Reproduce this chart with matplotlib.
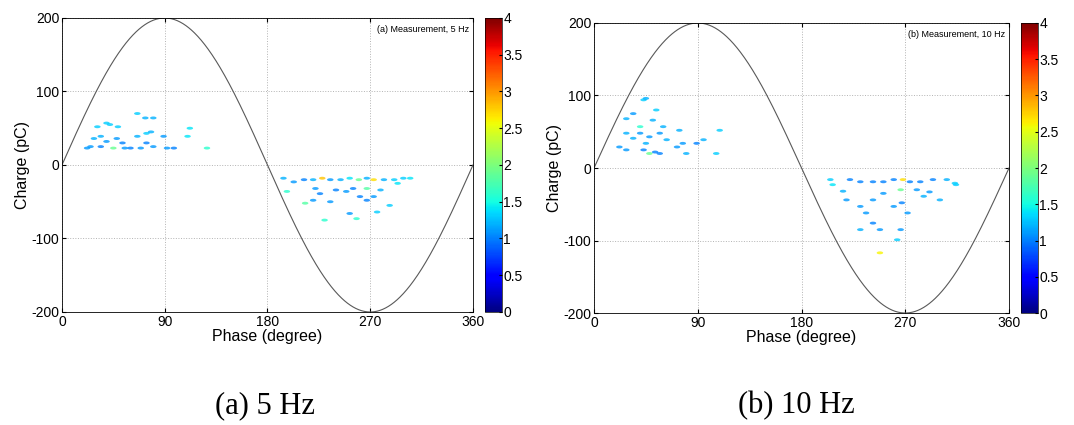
import numpy as np
import matplotlib
matplotlib.use("Agg")
from matplotlib import pyplot as plt

# (a) 5 Hz : phase (deg), charge (pC), intensity
phase_a = [22, 25, 28, 34, 34, 39, 39, 45, 48, 49, 53, 55, 31, 42, 60, 66, 66, 69, 73,
           74, 74, 78, 80, 80, 89, 92, 98, 110, 112, 127,
           194, 197, 203, 212, 213, 220, 220, 222, 226, 228, 230, 235, 235, 240, 244,
           249, 252, 252, 255, 258, 260, 261, 267, 267, 267, 273, 273, 276, 279, 282,
           287, 291, 294, 299, 305]
charge_a = [23, 25, 36, 25, 39, 32, 57, 23, 36, 52, 30, 23, 52, 55, 23, 70, 39, 23, 64,
            30, 43, 45, 64, 25, 39, 23, 23, 39, 50, 23,
            -18, -36, -23, -20, -52, -20, -48, -32, -39, -18, -75, -20, -50, -34, -20,
            -36, -18, -66, -32, -73, -20, -43, -18, -48, -32, -20, -43, -64, -34, -20,
            -55, -20, -25, -18, -18]
level_a = [1.1, 1.1, 1.2, 1.0, 1.2, 1.1, 1.3, 1.9, 1.1, 1.3, 1.0, 1.1, 1.3, 1.3, 1.0, 1.3, 1.2, 1.1, 1.2,
           1.0, 1.3, 1.2, 1.2, 1.1, 1.1, 1.1, 1.0, 1.4, 1.4, 1.6,
           1.2, 1.6, 1.1, 1.0, 1.8, 1.2, 1.1, 1.1, 1.0, 2.8, 1.6, 1.1, 1.1, 1.0, 1.2,
           1.1, 1.4, 1.1, 1.0, 1.6, 1.9, 1.0, 1.2, 1.0, 1.8, 2.7, 1.1, 1.3, 1.2, 1.2,
           1.3, 1.3, 1.4, 1.3, 1.4]

# (b) 10 Hz
phase_b = [22, 28, 28, 28, 34, 34, 40, 40, 43, 43, 45, 45, 48, 48, 51, 53, 54, 57, 57,
           60, 63, 72, 74, 77, 80, 89, 95, 106, 109,
           205, 207, 216, 219, 222, 231, 231, 231, 236, 242, 242, 242, 248, 248, 251,
           251, 260, 260, 263, 266, 266, 267, 268, 272, 274, 280, 283, 286, 291, 294,
           300, 306, 313, 314]
charge_b = [29, 68, 25, 48, 75, 41, 48, 57, 94, 25, 34, 96, 20, 43, 66, 22, 80, 48, 20,
            57, 39, 29, 52, 34, 20, 34, 39, 20, 52,
            -16, -23, -32, -44, -16, -19, -53, -85, -62, -19, -44, -76, -85, -117, -19,
            -35, -16, -53, -99, -30, -85, -48, -16, -62, -19, -30, -19, -39, -33, -16,
            -44, -16, -21, -23]
level_b = [1.1, 1.2, 1.1, 1.2, 1.1, 1.2, 1.1, 1.6, 1.3, 1.0, 1.2, 1.2, 1.9, 1.1, 1.2, 1.0, 1.3, 1.1, 1.0,
           1.2, 1.2, 1.1, 1.2, 1.1, 1.2, 1.0, 1.2, 1.3, 1.3,
           1.3, 1.4, 1.2, 1.1, 1.0, 1.0, 1.1, 1.2, 1.1, 1.0, 1.1, 1.0, 1.1, 2.6, 1.0,
           1.1, 1.0, 1.1, 1.3, 1.9, 1.1, 1.0, 2.7, 1.1, 1.0, 1.1, 1.0, 1.2, 1.1, 1.0,
           1.2, 1.2, 1.3, 1.3]

plt.rcParams['font.family'] = ['Liberation Sans', 'DejaVu Sans']
plt.rcParams['axes.unicode_minus'] = False

# flat ellipse marker, like the smeared dots of the measurement
t = np.linspace(0, 2*np.pi, 25)
blob = np.column_stack([np.cos(t), 0.45*np.sin(t)])

fig = plt.figure(figsize=(10.74, 4.25), dpi=100)

panels = [
    (phase_a, charge_a, level_a, "(a) Measurement, 5 Hz", [0.0577, 0.2659, 0.3827, 0.6918], 0.4516, "(a) 5 Hz", 265),
    (phase_b, charge_b, level_b, "(b) Measurement, 10 Hz", [0.5531, 0.2635, 0.3864, 0.6824], 0.9506, "(b) 10 Hz", 796),
]

ph = np.linspace(0, 360, 721)
for px, qc, lv, tag, pos, cbx, cap, capx in panels:
    ax = fig.add_axes(pos)
    ax.plot(ph, 200*np.sin(np.radians(ph)), color="0.35", lw=0.8)
    sc = ax.scatter(px, qc, c=lv, cmap="jet", vmin=0, vmax=4, s=22, marker=blob,
                    edgecolors="none", alpha=0.8, zorder=3)
    ax.set_xlim(0, 360)
    ax.set_ylim(-200, 200)
    ax.set_xticks([0, 90, 180, 270, 360])
    ax.set_yticks([-200, -100, 0, 100, 200])
    ax.tick_params(direction="in", labelsize=10, length=3, pad=2, top=True, right=True)
    ax.grid(True, linestyle=":", color="0.7", linewidth=0.7)
    ax.set_xlabel("Phase (degree)", fontsize=11.5, labelpad=0)
    ax.set_ylabel("Charge (pC)", fontsize=11.5, labelpad=1)
    ax.text(0.99, 0.975, tag, transform=ax.transAxes, ha="right", va="top", fontsize=6.5)
    for s in ax.spines.values():
        s.set_linewidth(0.6)
    cax = fig.add_axes([cbx, pos[1], 0.0158, pos[3]])
    cb = fig.colorbar(sc, cax=cax)
    cb.solids.set_alpha(1)
    cb.set_ticks(np.arange(0, 4.01, 0.5))
    cb.set_ticklabels(["0", "0.5", "1", "1.5", "2", "2.5", "3", "3.5", "4"])
    cb.ax.tick_params(direction="in", labelsize=10, length=2, pad=1)
    cb.outline.set_linewidth(0.5)
    fig.text(capx/1074, 1 - 406/425, cap, ha="center", va="center",
             fontsize=22, family="Liberation Serif")

fig.savefig("out.png", dpi=100)
